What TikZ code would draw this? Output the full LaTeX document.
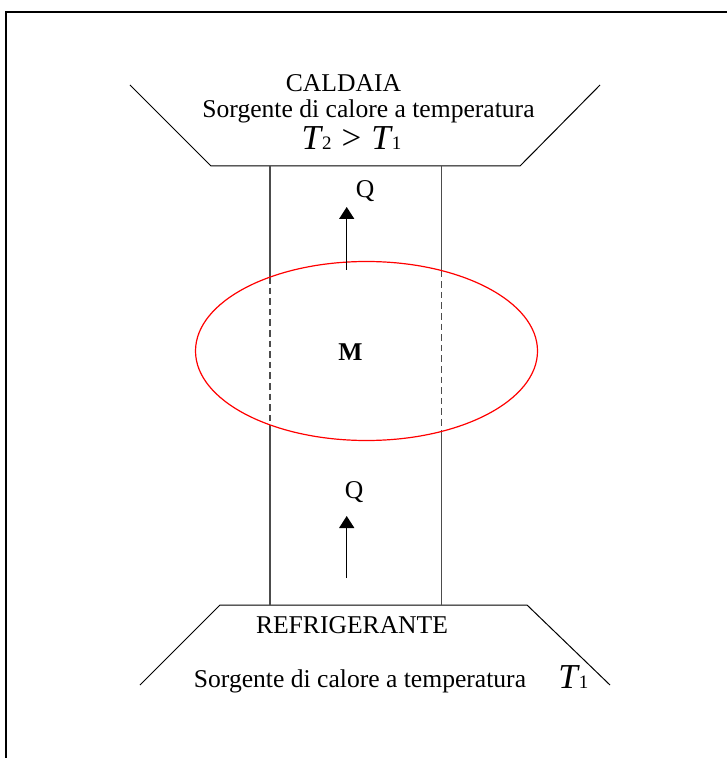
\documentclass[tikz,border=0pt]{standalone}
\usepackage{fontspec}
\setmainfont{Liberation Serif}
\usetikzlibrary{arrows.meta}

\newcommand{\Tidx}[1]{\textit{T}\kern-0.5pt{\fontsize{9.5}{10}\selectfont #1}}

\begin{document}
\begin{tikzpicture}[
  x=0.5pt, y=-0.5pt,
  font=\fontsize{12.8}{15}\selectfont,
  label/.style={anchor=base, inner sep=0pt},
  bigT/.style={label, font=\fontsize{17.5}{20}\selectfont},
  wall/.style={line width=0.5pt},
  side/.style={line width=0.6pt, black!70},
  heat/.style={-{Triangle[length=6pt, width=7.5pt]}, line width=0.75pt}
]
\useasboundingbox (0,0) rectangle (726,758);

% Frame
\draw[line width=1pt] (5.7,770) -- (5.7,12) -- (740,12);

% Reservoirs
\draw[wall] (130,85) -- (211,166) -- (520,166) -- (600,85);
\draw[wall] (140,685) -- (220,605) -- (527,605) -- (610,685);

% Side walls
\draw[side] (270,166) -- (270,277);
\draw[side, dash pattern=on 3.3pt off 2pt] (270,277) -- (270,425);
\draw[side] (270,425) -- (270,605);
\draw[side] (441.7,166) -- (441.7,270.6);
\draw[side, dash pattern=on 3.3pt off 2pt] (441.7,270.6) -- (441.7,431.4);
\draw[side] (441.7,431.4) -- (441.7,605);

% Machine
\draw[red, line width=0.6pt] (366.5,351) ellipse [x radius=85.5pt, y radius=44.75pt];
\node[label, font=\fontsize{12.8}{15}\selectfont\bfseries] (mach) at (350.5,360) {M};

% Nodes
\node[label] (caldaia) at (343.5,92) {CALDAIA};
\node[label] (srctop) at (368.5,118) {Sorgente di calore a temperatura};
\node[bigT] (tcmp) at (351.5,150) {\Tidx{2}\hspace{5pt}>\hspace{5pt}\Tidx{1}};
\node[label] (refrig) at (352,633) {REFRIGERANTE};
\node[label] (srcbot) at (360,687) {Sorgente di calore a temperatura};
\node[bigT, anchor=base west] (tlow) at (558,688) {\Tidx{1}};
\node[label] (qtop) at (365,198) {Q};
\node[label] (qbot) at (354,498) {Q};

% Heat flows
\coordinate (qtopfrom) at (346.7,270);
\coordinate (qtopto) at (346.7,207);
\coordinate (qbotfrom) at (346.7,578);
\coordinate (qbotto) at (346.7,516);
\draw[heat] (qtopfrom) -- (qtopto);
\draw[heat] (qbotfrom) -- (qbotto);

\end{tikzpicture}
\end{document}
